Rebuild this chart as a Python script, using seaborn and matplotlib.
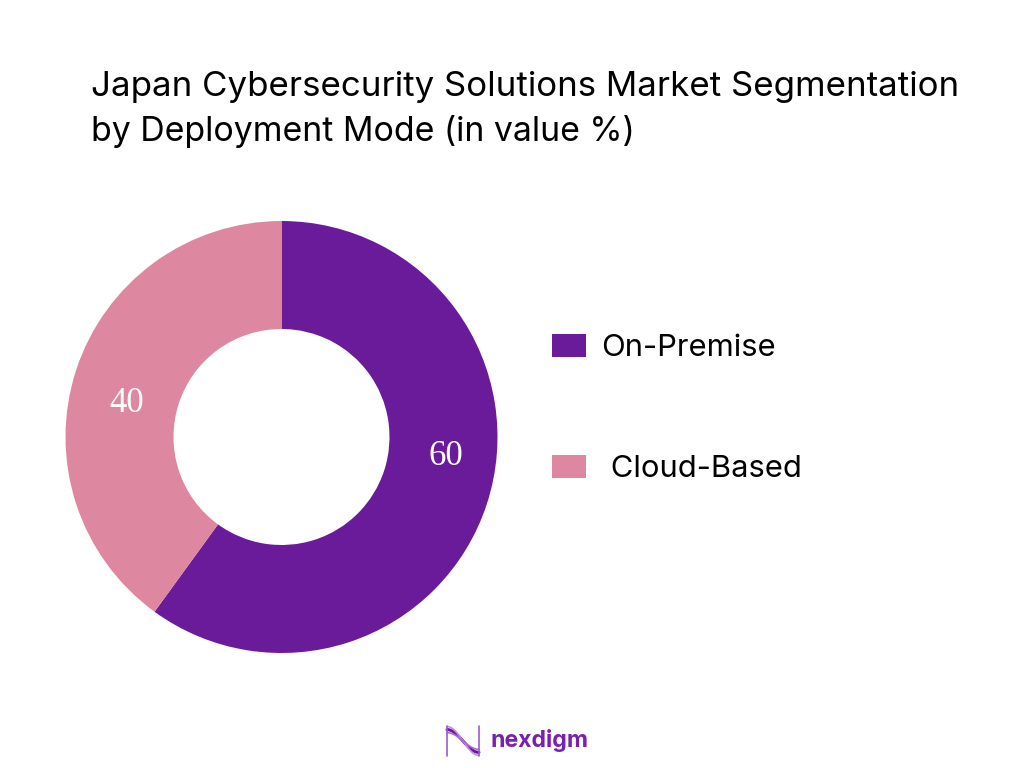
import numpy as np
import matplotlib
matplotlib.use("Agg")
import matplotlib.pyplot as plt
import seaborn as sns

segments = ["On-Premise", " Cloud-Based"]
shares = [60, 40]
colors = ["#6A1B9A", "#DE87A0"]
title_lines = ["Japan Cybersecurity Solutions Market Segmentation", "by Deployment Mode (in value %)"]

sns.set_theme(style="white")
plt.rcParams["font.family"] = ["Inter", "DejaVu Sans"]

W, H = 1024, 768
fig = plt.figure(figsize=(W / 100, H / 100), dpi=100, facecolor="white")

# donut, axes box is the outer circle in pixels
ax = fig.add_axes([65.5 / W, 1 - 653 / H, 432 / W, 432 / H])
wedges, _ = ax.pie(shares, colors=colors, startangle=90, counterclock=False, radius=1,
                   wedgeprops={"width": 0.5, "linewidth": 0})
ax.set_xlim(-1, 1)
ax.set_ylim(-1, 1)

# value labels, placed by hand on the ring like the original
label_pos = [(0.76, -0.09), (-0.715, 0.155)]
for (lx, ly), val in zip(label_pos, shares):
    ax.text(lx, ly, str(val), color="white", ha="center", va="center", fontsize=25,
            family="Liberation Serif")

fig.text(91 / W, 1 - 87 / H, title_lines[0], fontsize=25.1, color="black", va="center", ha="left")
fig.text(91 / W, 1 - 131 / H, title_lines[1], fontsize=24.4, color="black", va="center", ha="left")

leg = fig.legend(wedges, segments, loc="upper left", bbox_to_anchor=(542.7 / W, 1 - 325 / H),
                 frameon=False, fontsize=22.3, handlelength=1.09, handleheight=0.74,
                 handletextpad=0.51, labelspacing=3.0, labelcolor="black", borderpad=0.3,
                 borderaxespad=0)

# logo
logo = fig.add_axes([444 / W, 1 - 760 / H, 38 / W, 38 / H])
logo.axis("off")
logo.set_xlim(0, 1)
logo.set_ylim(0, 1)
t = np.linspace(0.08, 0.92, 60)
for shift, c, lw in [(0.0, "#6A1B9A", 2.2), (0.08, "#C58BE0", 1.2), (-0.08, "#B06AD8", 1.2)]:
    logo.plot(t, 0.5 + (0.3 + shift) * np.cos(np.pi * (t - 0.08) / 0.84), color=c, lw=lw)
logo.plot([0.08, 0.08], [0.1, 0.9], color="#9A5CC8", lw=1.2)
logo.plot([0.92, 0.92], [0.1, 0.9], color="#9A5CC8", lw=1.2)
fig.text(490 / W, 1 - 741 / H, "nexdigm", fontsize=16.6, fontweight="bold", color="#7A1FB0",
         va="center", ha="left")

fig.savefig("out.png", dpi=100, facecolor="white")
